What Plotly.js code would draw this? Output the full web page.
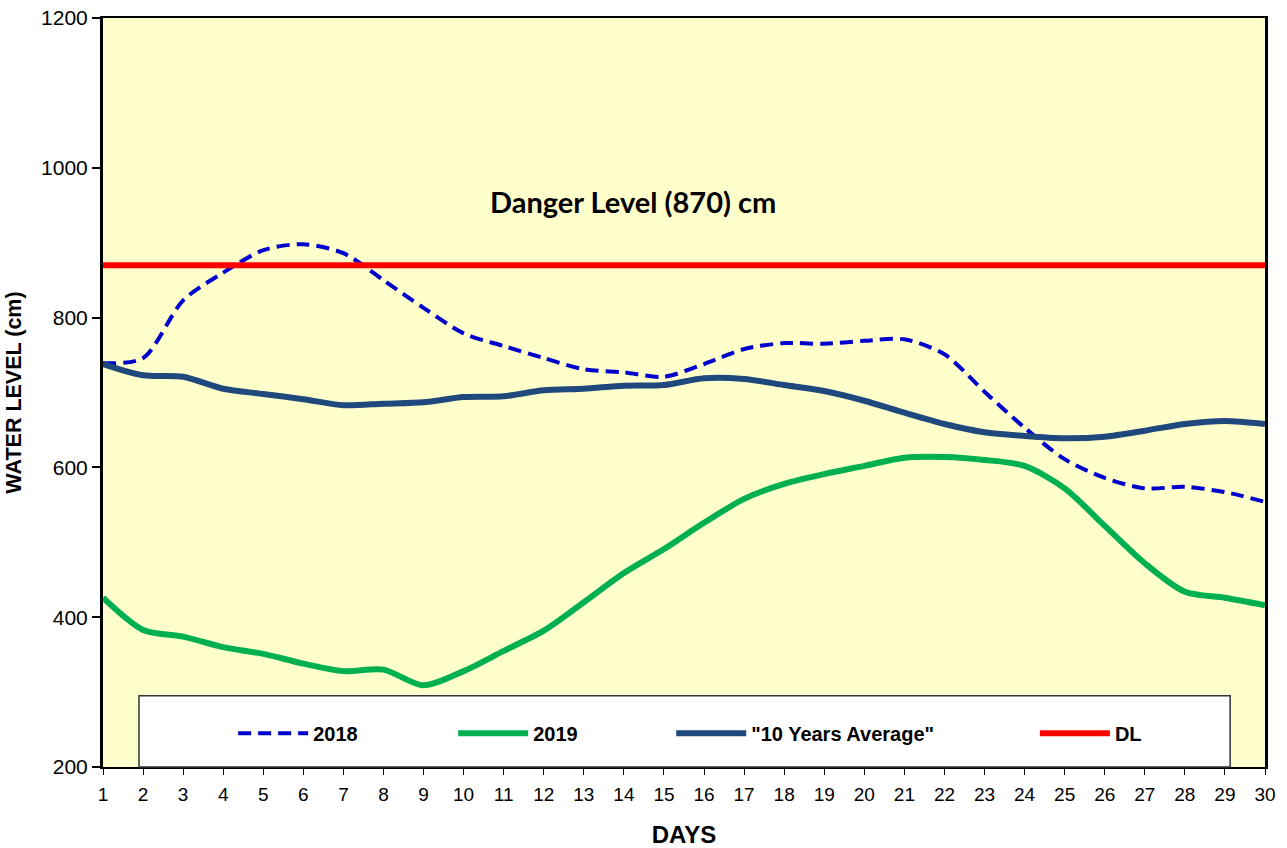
<!DOCTYPE html>
<html>
<head>
<meta charset="utf-8">
<script src="https://cdn.plot.ly/plotly-3.0.1.min.js"></script>
<style>html,body{margin:0;padding:0;background:#fff;}#chart{width:1287px;height:848px;}</style>
</head>
<body>
<div id="chart"></div>
<script>
const days = [1,2,3,4,5,6,7,8,9,10,11,12,13,14,15,16,17,18,19,20,21,22,23,24,25,26,27,28,29,30];
const level2018 = [739,746,823,860,890,898,886,850,813,779,762,746,731,727,721,738,758,766,765,769,771,751,701,653,611,586,572,574,567,554];
const level2019 = [426,383,374,360,351,338,328,330,309,328,355,382,420,459,491,526,558,578,591,602,613,614,610,602,572,522,472,434,426,416];
const avg10 = [738,723,721,705,698,691,683,685,687,694,695,703,705,709,710,719,718,710,702,689,673,658,647,642,639,641,649,658,662,658];
const dangerLevel = days.map(() => 870);
const seriesNames = ['2018', '2019', '"10 Years Average"', 'DL'];
const dangerLabel = 'Danger Level (870) cm';

const legendFont = {family: 'Liberation Sans, Arial', size: 20, color: '#000', weight: 'bold'};
const legendBase = {orientation: 'h', xref: 'paper', yref: 'paper', y: 0.045, xanchor: 'left', yanchor: 'middle',
  bgcolor: 'rgba(0,0,0,0)', borderwidth: 0, font: legendFont, itemwidth: 70};

const traces = [
  {x: days, y: level2018, name: seriesNames[0], type: 'scatter', mode: 'lines',
   line: {color: '#0000CC', width: 4, dash: '13px,7px', shape: 'spline', smoothing: 0.8}, legend: 'legend'},
  {x: days, y: level2019, name: seriesNames[1], type: 'scatter', mode: 'lines',
   line: {color: '#00B050', width: 6, shape: 'spline', smoothing: 0.8}, legend: 'legend'},
  {x: days, y: avg10, name: seriesNames[2], type: 'scatter', mode: 'lines',
   line: {color: '#1F497D', width: 6, shape: 'spline', smoothing: 0.8}, legend: 'legend3'},
  {x: days, y: dangerLevel, name: seriesNames[3], type: 'scatter', mode: 'lines',
   line: {color: '#FF0000', width: 6}, legend: 'legend2'}
];

const layout = {
  width: 1287, height: 848,
  margin: {l: 103, r: 22, t: 18, b: 81},
  paper_bgcolor: '#FFFFFF',
  plot_bgcolor: '#FFFFCC',
  font: {family: 'Liberation Sans, Arial', color: '#000'},
  showlegend: true,
  xaxis: {
    range: [1, 30], tickmode: 'array', tickvals: days, ticktext: days.map(String),
    showgrid: false, zeroline: false, showline: true, linecolor: '#000', linewidth: 2, mirror: true,
    ticks: 'outside', ticklen: 6, tickwidth: 1, tickcolor: '#000', ticklabelstandoff: 3,
    tickfont: {size: 19, family: 'Liberation Sans, Arial'},
    title: {text: '<b>DAYS</b>', font: {size: 24, family: 'Liberation Sans, Arial'}, standoff: 26}
  },
  yaxis: {
    range: [200, 1200], tickvals: [200,400,600,800,1000,1200],
    showgrid: false, zeroline: false, showline: true, linecolor: '#000', linewidth: 3, mirror: true,
    ticks: 'outside', ticklen: 8, tickwidth: 2, tickcolor: '#000',
    tickfont: {size: 21, family: 'Liberation Sans, Arial'},
    title: {text: '<b>WATER LEVEL (cm)</b>', font: {size: 21.5, family: 'Liberation Sans, Arial'}, standoff: 14}
  },
  legend: Object.assign({}, legendBase, {x: 0.112, entrywidth: 135, entrywidthmode: 'pixels', traceorder: 'normal'}),
  legend3: Object.assign({}, legendBase, {x: 0.489}),
  legend2: Object.assign({}, legendBase, {x: 0.802}),
  shapes: [
    {type: 'rect', xref: 'paper', yref: 'paper', x0: 0.031, x1: 0.97, y0: 0, y1: 0.095,
     fillcolor: '#FFFFFF', line: {color: '#333', width: 1.5}, layer: 'above'}
  ],
  annotations: [
    {text: '<b>' + dangerLabel + '</b>', xref: 'paper', yref: 'y', x: 0.456, y: 955, showarrow: false,
     font: {family: 'Lato, Open Sans, sans-serif', size: 29, color: '#000'}, xanchor: 'center', yanchor: 'middle'}
  ]
};

Plotly.newPlot('chart', traces, layout, {displayModeBar: false, staticPlot: true});
</script>
</body>
</html>
